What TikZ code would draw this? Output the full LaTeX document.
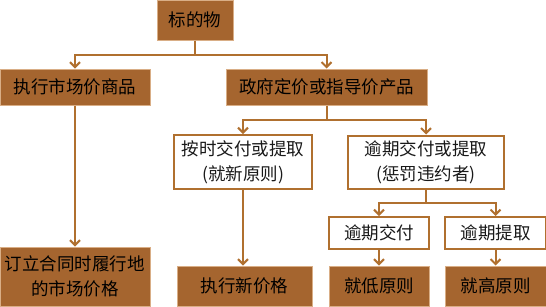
\documentclass[tikz,border=0pt]{standalone}
\usepackage{fontspec}
\setmainfont{Noto Sans CJK SC}
\usetikzlibrary{arrows.meta}
\definecolor{brfill}{HTML}{A5652F}
\definecolor{brline}{HTML}{B0702F}
\definecolor{brpale}{HTML}{D9AE86}
\tikzset{
  filled/.style={rectangle, fill=brfill, draw=brpale, line width=1pt, inner sep=0pt, align=center, text=black, font=\fontsize{17.5}{25}\selectfont},
  whitebox/.style={rectangle, fill=white, draw=brline, line width=2pt, inner sep=0pt, align=center, text=black!90, font=\fontsize{17.5}{25}\selectfont},
  conn/.style={draw=brline, line width=2pt, -{Straight Barb[length=5pt,width=10pt,line width=2pt]}}
}
\begin{document}
\begin{tikzpicture}[x=1pt,y=-1pt]
\useasboundingbox (0,0) rectangle (546,306);
\node[filled, minimum width=76pt, minimum height=40pt] (top) at (195,20) {标的物};
\node[filled, minimum width=150pt, minimum height=36pt] (mkt) at (75,87) {执行市场价商品};
\node[filled, minimum width=201pt, minimum height=36pt] (gov) at (326.5,87) {政府定价或指导价产品};
\node[whitebox, minimum width=138pt, minimum height=54pt] (ontime) at (243,162) {按时交付或提取\\(就新原则)};
\node[whitebox, minimum width=156pt, minimum height=53pt] (late) at (426,162) {逾期交付或提取\\(惩罚违约者)};
\node[whitebox, minimum width=100pt, minimum height=32pt] (ld) at (379,233) {逾期交付};
\node[whitebox, minimum width=101pt, minimum height=32pt] (lt) at (495.5,233) {逾期提取};
\node[filled, minimum width=150pt, minimum height=59pt] (sign) at (75,276.5) {订立合同时履行地\\的市场价格};
\node[filled, minimum width=135pt, minimum height=40pt] (newp) at (244.5,286) {执行新价格};
\node[filled, minimum width=100pt, minimum height=40pt] (low) at (379,286) {就低原则};
\node[filled, minimum width=101pt, minimum height=40pt] (high) at (495.5,286) {就高原则};
% connectors
\draw[conn] (top.south) -- ++(0,14) -| (mkt.north);
\draw[conn] (top.south) -- ++(0,14) -| (gov.north);
\draw[conn] (gov.south) -- ++(0,14) -| (ontime.north);
\draw[conn] (gov.south) -- ++(0,14) -| (late.north);
\draw[conn] (late.south) -- ++(0,13) -| (ld.north);
\draw[conn] (late.south) -- ++(0,13) -| (lt.north);
\draw[conn] (mkt.south) -- (sign.north);
\draw[conn] (ontime.south) -- (ontime.south |- newp.north);
\draw[conn] (ld.south) -- (low.north);
\draw[conn] (lt.south) -- (high.north);
\end{tikzpicture}
\end{document}
